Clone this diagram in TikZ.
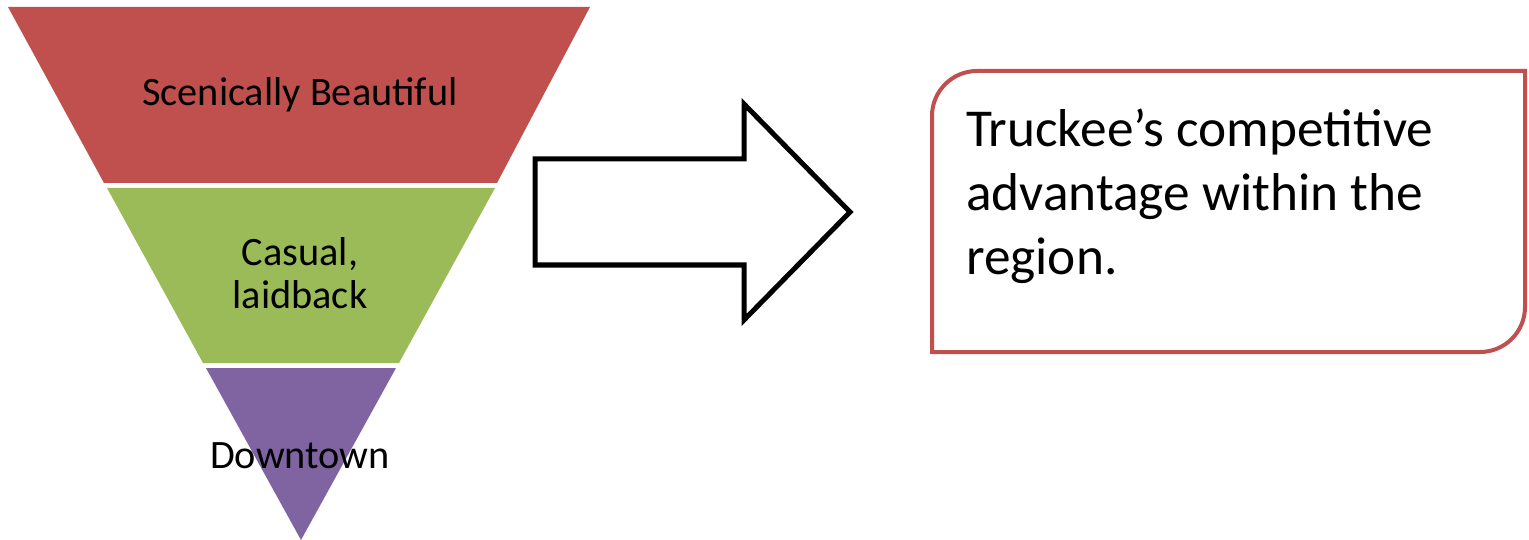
\documentclass[tikz,border=0pt]{standalone}
\usepackage{fontspec}
\setmainfont{Carlito}
\definecolor{fred}{HTML}{C0504D}
\definecolor{fgreen}{HTML}{9BBB59}
\definecolor{fpurple}{HTML}{8064A2}
\begin{document}
\begin{tikzpicture}[x=1pt,y=-1pt,
  lbl/.style={anchor=base,inner sep=0pt,font=\fontsize{40.3}{43}\selectfont,align=center},
  boxtxt/.style={anchor=base west,inner sep=0pt,font=\fontsize{53.3}{64}\selectfont,align=left}]
\useasboundingbox (0,0) rectangle (1529,540);
% funnel
\fill[fred] (8,7) -- (590,7) -- (497,183) -- (104,183) -- cycle;
\fill[fgreen] (107,188) -- (495,188) -- (399,363) -- (203,363) -- cycle;
\fill[fpurple] (206,368) -- (396,368) -- (301,540) -- cycle;
\node[lbl] (t1) at (300,106) {Scenically Beautiful};
\node[lbl] (t2) at (300,308) {Casual,\\laidback};
\node[lbl] (t3) at (300,468) {Downtown};
% arrow
\draw[line width=5pt,line join=miter,fill=white] (535,159) -- (744,159) -- (744,104) -- (850,212) -- (744,320) -- (744,265) -- (535,265) -- cycle;
% box
\draw[fred,line width=4pt,fill=white,sharp corners] (932,352) -- (932,200) [rounded corners=45pt] -- (932,71) -- (1200,71) [sharp corners] -- (1525,71) -- (1525,200) [rounded corners=45pt] -- (1525,352) -- (1200,352) [sharp corners] -- cycle;
\node[boxtxt] (bt) at (966,274) {Truckee’s competitive\\advantage within the\\region.};
\end{tikzpicture}
\end{document}
